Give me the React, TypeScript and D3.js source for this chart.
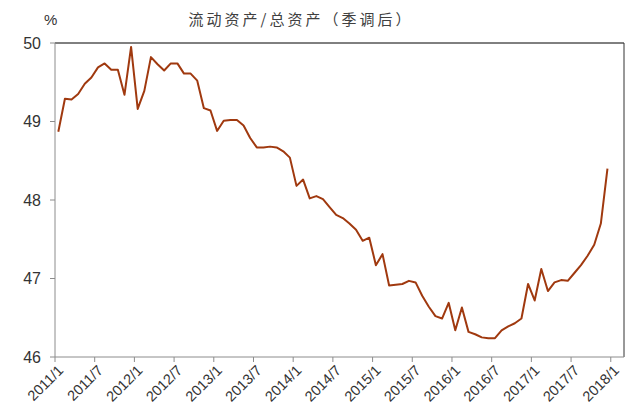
import React from "react";
import * as d3 from "d3";

const values: number[] = [
  48.87, 49.29, 49.28, 49.35, 49.48, 49.56, 49.69, 49.74, 49.66, 49.66, 49.34, 49.95,
  49.16, 49.39, 49.82, 49.73, 49.65, 49.74, 49.74, 49.61, 49.61, 49.52, 49.17, 49.14,
  48.88, 49.01, 49.02, 49.02, 48.95, 48.79, 48.67, 48.67, 48.68, 48.67, 48.62, 48.54,
  48.18, 48.26, 48.02, 48.05, 48.01, 47.91, 47.81, 47.77, 47.7, 47.62, 47.48, 47.52,
  47.17, 47.31, 46.91, 46.92, 46.93, 46.97, 46.95, 46.78, 46.64, 46.52, 46.49, 46.69,
  46.34, 46.63, 46.32, 46.29, 46.25, 46.24, 46.24, 46.34, 46.39, 46.43, 46.49, 46.93,
  46.72, 47.12, 46.84, 46.95, 46.98, 46.97, 47.07, 47.17, 47.29, 47.43, 47.7, 48.4,
];
const categoryCount = 86;
const xTickLabels: string[] = [
  "2011/1", "2011/7", "2012/1", "2012/7", "2013/1", "2013/7", "2014/1", "2014/7",
  "2015/1", "2015/7", "2016/1", "2016/7", "2017/1", "2017/7", "2018/1",
];
const yTicks: number[] = [46, 47, 48, 49, 50];
const title = "流动资产/总资产（季调后）";
const unit = "%";

export default function App() {
  const W = 630, H = 418;
  const L = 55, R = 624, T = 43, B = 357;
  const x = d3.scaleLinear().domain([0, categoryCount]).range([L, R]);
  const y = d3.scaleLinear().domain([46, 50]).range([B, T]);
  const line = d3.line<number>().x((_, i) => x(i + 0.5)).y((d) => y(d));
  const labelFont = "'Liberation Sans', Arial, sans-serif";
  return (
    <svg width={W} height={H} style={{ position: "absolute", left: 0, top: 0, background: "#fff" }}>
      <text x={301} y={25} textAnchor="middle" fontSize={15} fill="#404040" letterSpacing={3} fontFamily="'Noto Sans CJK SC', sans-serif">{title}</text>
      <text x={44} y={25} fontSize={15} fill="#333" fontFamily={labelFont}>{unit}</text>
      <line x1={L} x2={R} y1={T} y2={T} stroke="#000" strokeWidth={1} />
      <line x1={R} x2={R} y1={T} y2={B} stroke="#333" strokeWidth={1} />
      <line x1={L} x2={L} y1={T} y2={B} stroke="#8c8c8c" strokeWidth={1} />
      <line x1={L} x2={R} y1={B} y2={B} stroke="#8c8c8c" strokeWidth={1} />
      {yTicks.map((t) => (
        <g key={t}>
          <line x1={L - 5} x2={L} y1={y(t)} y2={y(t)} stroke="#8c8c8c" />
          <text x={41} y={y(t)} dy="0.35em" textAnchor="end" fontSize={16} fill="#333" fontFamily={labelFont}>{t}</text>
        </g>
      ))}
      {xTickLabels.map((lab, k) => {
        const xv = x(k * 6);
        return (
          <g key={lab}>
            <line x1={xv} x2={xv} y1={B} y2={B + 5} stroke="#8c8c8c" />
            <text transform={`translate(${xv + 2},${B + 7}) rotate(-45)`} textAnchor="end" fontSize={14.5} fill="#333" fontFamily={labelFont} dy="0.7em">{lab}</text>
          </g>
        );
      })}
      <path d={line(values) || ""} fill="none" stroke="#A0390F" strokeWidth={2} strokeLinejoin="round" />
    </svg>
  );
}
